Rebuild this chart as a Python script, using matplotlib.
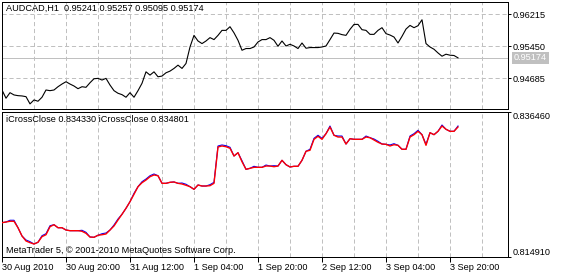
import matplotlib
matplotlib.use('Agg')
import matplotlib.pyplot as plt
from matplotlib.ticker import MultipleLocator
import numpy as np

# ---------------- data ----------------
symbol = "AUDCAD,H1"
ohlc_last = ["0.95241", "0.95257", "0.95095", "0.95174"]

close_prices = [
    0.94408, 0.94212, 0.94344, 0.94290, 0.94273, 0.94266, 0.94249, 0.94077, 0.94171, 0.94140,
    0.94235, 0.94408, 0.94392, 0.94408, 0.94486, 0.94550, 0.94605, 0.94550, 0.94503, 0.94439,
    0.94486, 0.94472, 0.94581, 0.94676, 0.94685, 0.94645, 0.94685, 0.94526, 0.94392, 0.94330,
    0.94297, 0.94235, 0.94344, 0.94235, 0.94392, 0.94567, 0.94841, 0.94763, 0.94841, 0.94723,
    0.94740, 0.94818, 0.94858, 0.94922, 0.95000, 0.94922, 0.95040, 0.95433, 0.95710, 0.95576,
    0.95514, 0.95576, 0.95656, 0.95609, 0.95710, 0.95829, 0.95829, 0.95916, 0.95770, 0.95592,
    0.95355, 0.95396, 0.95396, 0.95433, 0.95552, 0.95609, 0.95609, 0.95656, 0.95592, 0.95450,
    0.95576, 0.95457, 0.95497, 0.95457, 0.95396, 0.95528, 0.95403, 0.95419, 0.95419, 0.95419,
    0.95433, 0.95457, 0.95609, 0.95765, 0.95758, 0.95727, 0.95710, 0.95853, 0.95971, 0.95971,
    0.95845, 0.95829, 0.95734, 0.95734, 0.95829, 0.95893, 0.95751, 0.95718, 0.95670, 0.95528,
    0.95687, 0.95860, 0.95947, 0.95893, 0.95940, 0.96082, 0.95514, 0.95433, 0.95379, 0.95291,
    0.95213, 0.95261, 0.95237, 0.95230, 0.95174]

cross_red = [
    0.82001, 0.82011, 0.82022, 0.82022, 0.81926, 0.81803, 0.81729, 0.81704, 0.81684, 0.81710,
    0.81793, 0.81822, 0.81941, 0.81971, 0.81926, 0.81926, 0.81892, 0.81882, 0.81882, 0.81882,
    0.81873, 0.81843, 0.81788, 0.81784, 0.81814, 0.81822, 0.81833, 0.81892, 0.81952, 0.82041,
    0.82126, 0.82215, 0.82313, 0.82423, 0.82536, 0.82595, 0.82635, 0.82684, 0.82710, 0.82699,
    0.82586, 0.82586, 0.82601, 0.82606, 0.82586, 0.82576, 0.82557, 0.82536, 0.82497, 0.82561,
    0.82546, 0.82546, 0.82551, 0.82586, 0.83126, 0.83141, 0.83130, 0.83107, 0.82992, 0.83041,
    0.82907, 0.82794, 0.82809, 0.82824, 0.82824, 0.82824, 0.82843, 0.82843, 0.82833, 0.82843,
    0.82928, 0.82863, 0.82829, 0.82839, 0.82839, 0.82928, 0.83062, 0.83077, 0.83240, 0.83285,
    0.83240, 0.83324, 0.83423, 0.83300, 0.83274, 0.83274, 0.83170, 0.83249, 0.83240, 0.83240,
    0.83240, 0.83274, 0.83264, 0.83230, 0.83196, 0.83170, 0.83166, 0.83141, 0.83160, 0.83151,
    0.83092, 0.83092, 0.83274, 0.83309, 0.83359, 0.83309, 0.83151, 0.83338, 0.83309, 0.83359,
    0.83438, 0.83389, 0.83359, 0.83359, 0.83423]

cross_blue = [
    0.82001, 0.82011, 0.82037, 0.82037, 0.81926, 0.81803, 0.81744, 0.81719, 0.81684, 0.81710,
    0.81808, 0.81837, 0.81956, 0.81971, 0.81926, 0.81926, 0.81892, 0.81882, 0.81882, 0.81882,
    0.81888, 0.81858, 0.81788, 0.81784, 0.81814, 0.81837, 0.81848, 0.81892, 0.81967, 0.82056,
    0.82126, 0.82215, 0.82313, 0.82438, 0.82536, 0.82610, 0.82650, 0.82699, 0.82725, 0.82699,
    0.82586, 0.82586, 0.82601, 0.82606, 0.82586, 0.82591, 0.82572, 0.82536, 0.82497, 0.82561,
    0.82546, 0.82546, 0.82566, 0.82601, 0.83141, 0.83156, 0.83145, 0.83122, 0.82992, 0.83041,
    0.82922, 0.82794, 0.82809, 0.82839, 0.82824, 0.82824, 0.82858, 0.82843, 0.82848, 0.82843,
    0.82928, 0.82863, 0.82829, 0.82839, 0.82839, 0.82928, 0.83062, 0.83092, 0.83255, 0.83300,
    0.83255, 0.83324, 0.83438, 0.83300, 0.83289, 0.83289, 0.83170, 0.83249, 0.83240, 0.83240,
    0.83240, 0.83289, 0.83264, 0.83245, 0.83211, 0.83170, 0.83166, 0.83156, 0.83175, 0.83151,
    0.83092, 0.83092, 0.83289, 0.83324, 0.83374, 0.83309, 0.83166, 0.83338, 0.83309, 0.83359,
    0.83453, 0.83389, 0.83359, 0.83359, 0.83438]

indicator_header = "iCrossClose 0.834330 iCrossClose 0.834801"
copyright_text = "MetaTrader 5, \u00a9 2001-2010 MetaQuotes Software Corp."

time_labels = ["30 Aug 2010", "30 Aug 20:00", "31 Aug 12:00", "1 Sep 04:00",
               "1 Sep 20:00", "2 Sep 12:00", "3 Sep 04:00", "3 Sep 20:00"]
time_label_bars = [0, 16, 32, 48, 64, 80, 96, 112]

top_ticks = [0.94685, 0.95450, 0.96215]
top_limits = (0.93955, 0.96505)
bottom_ticks = [0.814910, 0.836460]

# ---------------- layout helpers ----------------
W, H = 561, 278
def rect(x0, y0, x1, y1):
    return [x0 / W, 1 - y1 / H, (x1 - x0) / W, (y1 - y0) / H]

FAM, FS = 'Liberation Sans', 6.6
plt.rcParams['font.family'] = [FAM, 'DejaVu Sans']
plt.rcParams['font.size'] = FS
plt.rcParams['lines.scale_dashes'] = False

PX = 0.72  # one pixel in points
GRID = '#c0c0c0'

fig = plt.figure(figsize=(W / 100, H / 100), dpi=100)
fig.patch.set_facecolor('white')
ax1 = fig.add_axes(rect(2, 2, 508, 109))
ax2 = fig.add_axes(rect(2, 112, 508, 257))

x = np.arange(len(close_prices))
xmax = 126.5

for ax in (ax1, ax2):
    ax.set_xlim(0, xmax)
    for sp in ax.spines.values():
        sp.set_linewidth(PX)
        sp.set_color('black')
    ax.xaxis.set_minor_locator(MultipleLocator(8))
    ax.grid(True, axis='x', which='both', color=GRID, linestyle=(0, (3, 2)),
            linewidth=PX)
    ax.set_axisbelow(True)
    ax.yaxis.tick_right()
    ax.tick_params(axis='y', which='major', length=3 * PX, width=PX, pad=1.2,
                   colors='black', labelsize=FS)
    ax.tick_params(axis='x', which='minor', length=0)

# ---- top panel ----
ax1.set_ylim(*top_limits)
ax1.set_yticks(top_ticks)
ax1.set_yticklabels([f"{v:.5f}" for v in top_ticks])
ax1.grid(True, axis='y', color=GRID, linestyle=(0, (3, 2)), linewidth=PX)
ax1.set_xticks(time_label_bars)
ax1.tick_params(axis='x', which='major', length=0, labelbottom=False)
ax1.axhline(close_prices[-1], color='#c0c0c0', linewidth=PX, zorder=1.5)
ax1.plot(x, close_prices, color='black', linewidth=0.8, zorder=3)
ax1.annotate(f"{close_prices[-1]:.5f}", xy=(1, close_prices[-1]),
             xycoords=('axes fraction', 'data'), xytext=(6, 0),
             textcoords='offset pixels', va='center', ha='left', color='white',
             fontsize=FS, annotation_clip=False,
             bbox=dict(boxstyle='square,pad=0.18', fc='#c0c0c0', ec='none'))
ax1.annotate(symbol + "  " + " ".join(ohlc_last), xy=(0, 1), xycoords='axes fraction',
             xytext=(4, -2), textcoords='offset pixels', va='top', ha='left',
             fontsize=FS, color='black')

# ---- bottom panel ----
ax2.set_ylim(bottom_ticks[0], bottom_ticks[-1])
ax2.set_yticks(bottom_ticks)
labs = ax2.set_yticklabels([f"{v:.6f}" for v in bottom_ticks])
labs[0].set_va('bottom')
labs[-1].set_va('top')
ax2.set_xticks(time_label_bars)
ax2.set_xticklabels(time_labels, ha='left')
ax2.tick_params(axis='x', which='major', length=5 * PX, width=PX, pad=0.5,
                labelsize=FS, colors='black')
ax2.plot(x, cross_blue, color='#0000ff', linewidth=0.8, zorder=3)
ax2.plot(x, cross_red, color='#ff0000', linewidth=1.0, zorder=4)
ax2.annotate(indicator_header, xy=(0, 1), xycoords='axes fraction',
             xytext=(4, -3), textcoords='offset pixels', va='top', ha='left',
             fontsize=FS, color='black')
ax2.annotate(copyright_text, xy=(0, 0), xycoords='axes fraction',
             xytext=(4, 4), textcoords='offset pixels', va='baseline', ha='left',
             fontsize=FS, color='black')

fig.savefig('out.png', dpi=100, facecolor='white')
